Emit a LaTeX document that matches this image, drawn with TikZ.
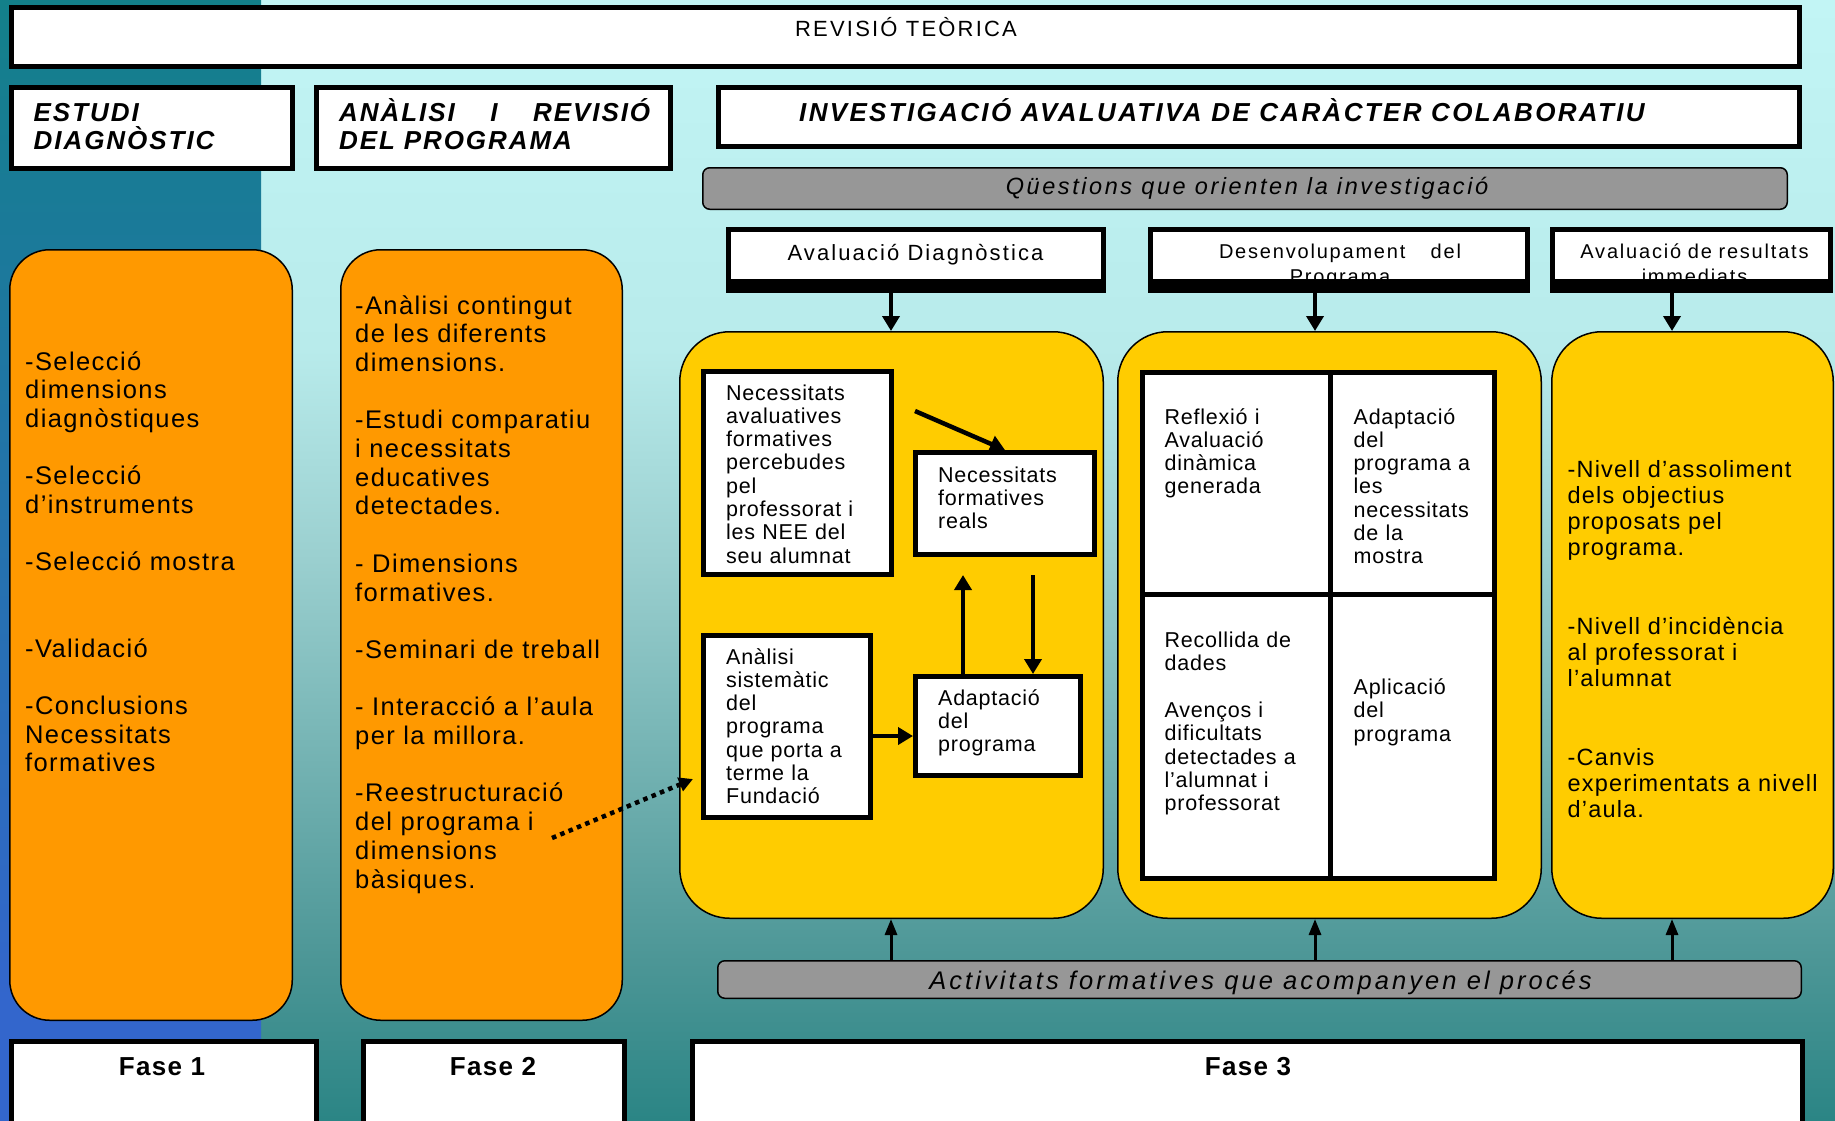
\documentclass[tikz,border=0pt]{standalone}
\usepackage{fontspec}
\setmainfont{Liberation Sans}
\usetikzlibrary{arrows.meta}

\definecolor{bgTop}{HTML}{C2F5F5}
\definecolor{bgMa}{HTML}{B8EBEB}
\definecolor{bgMb}{HTML}{9ACFCF}
\definecolor{bgMc}{HTML}{6CADAD}
\definecolor{bgMd}{HTML}{4C9696}
\definecolor{bgBot}{HTML}{2B8585}
\definecolor{stripTop}{HTML}{13808A}
\definecolor{stripBot}{HTML}{3366CC}
\definecolor{orangeC}{HTML}{FF9900}
\definecolor{yellowC}{HTML}{FFCC00}
\definecolor{grayC}{HTML}{979797}

\pgfdeclareverticalshading{rightbg}{100bp}{color(0bp)=(bgBot); color(25bp)=(bgBot);
  color(32.1bp)=(bgMd); color(39.3bp)=(bgMc); color(50bp)=(bgMb); color(59.4bp)=(bgMa);
  color(75bp)=(bgTop); color(100bp)=(bgTop)}
\pgfdeclareverticalshading{stripbg}{100bp}{color(0bp)=(stripBot); color(25bp)=(stripBot);
  color(30.4bp)=(stripBot); color(75bp)=(stripTop); color(100bp)=(stripTop)}

\newcommand\orangefont{\fontsize{25.5}{28.7}\selectfont\addfontfeatures{LetterSpace=5.5}}
\newcommand\yelfont{\fontsize{21.5}{23.3}\selectfont\addfontfeatures{LetterSpace=3.5}}
\newcommand\resfont{\fontsize{23.5}{26.2}\selectfont\addfontfeatures{LetterSpace=5}}
\newcommand\hdrfont{\fontsize{22}{27}\selectfont\addfontfeatures{LetterSpace=9.5}}
\newcommand\hdrsmall{\fontsize{20}{25}\selectfont\addfontfeatures{LetterSpace=9}}
\newcommand\headfont{\fontsize{26}{28}\selectfont\bfseries\itshape\addfontfeatures{LetterSpace=7.5}}
\newcommand\titlefont{\fontsize{22}{24}\selectfont\addfontfeatures{LetterSpace=10}}
\newcommand\bandfont{\fontsize{23.5}{27}\selectfont\itshape\addfontfeatures{LetterSpace=11}}
\newcommand\actfont{\fontsize{25.5}{29}\selectfont\itshape\addfontfeatures{LetterSpace=12}}
\newcommand\fasefont{\fontsize{26}{30}\selectfont\bfseries\addfontfeatures{LetterSpace=5}}

\begin{document}
\begin{tikzpicture}[x=1pt,y=-1pt,
  wbox/.style={draw=black,line width=5pt,fill=white},
  obox/.style={draw=black,line width=1.5pt,fill=orangeC,rounded corners=40pt},
  ybox/.style={draw=black,line width=1.5pt,fill=yellowC,rounded corners=50pt},
  gbox/.style={draw=black,line width=1.5pt,fill=grayC,rounded corners=7pt},
  lefttxt/.style={anchor=base west,align=left,text width=#1},
  ctrtxt/.style={anchor=base,align=center,text width=#1},
  arr/.style={line width=4.5pt,-{Triangle[length=15pt,width=17pt]}},
  uparr/.style={line width=3pt,-{Triangle[length=16pt,width=12pt]}},
  dotarr/.style={line width=4.5pt,dash pattern=on 4.5pt off 4.5pt,-{Triangle[length=14pt,width=14pt]}}]
\tikzstyle{every node}+=[inner sep=0pt]

\useasboundingbox (0,0) rectangle (1835,1120);
\clip (0,0) rectangle (1835,1120);

% background
\shade[shading=rightbg] (0,0) rectangle (1835,1120);
\shade[shading=stripbg] (0,0) rectangle (261,1120);

% top row
\node[wbox,minimum width=1788pt,minimum height=59pt] (revisio) at (905.5,37) {};
\node[wbox,minimum width=281pt,minimum height=81pt] (estudi) at (152,128) {};
\node[wbox,minimum width=354pt,minimum height=81pt] (analisi) at (493.5,128) {};
\node[wbox,minimum width=1081pt,minimum height=59pt] (invest) at (1259,117) {};
\node[gbox,minimum width=1084.5pt,minimum height=41.5pt] (quest) at (1245,188.5) {};

\node[wbox,minimum width=375pt,minimum height=61pt] (hdrA) at (916,260) {};
\node[wbox,minimum width=377pt,minimum height=61pt] (hdrB) at (1339,260) {};
\node[wbox,minimum width=278pt,minimum height=61pt] (hdrC) at (1691.5,260) {};

% columns
\node[obox,minimum width=282.5pt,minimum height=770.5pt] (or1) at (151,635) {};
\node[obox,minimum width=281.5pt,minimum height=770.5pt] (or2) at (481.5,635) {};
\node[ybox,minimum width=423.5pt,minimum height=586.5pt] (ye1) at (891.5,625) {};
\node[ybox,minimum width=423.5pt,minimum height=586.5pt] (ye2) at (1329.5,625) {};
\node[ybox,minimum width=281.5pt,minimum height=586.5pt] (ye3) at (1692.5,625) {};

% avaluacio diagnostica
\node[wbox,minimum width=188pt,minimum height=203pt] (necAval) at (797.5,473) {};
\node[wbox,minimum width=179pt,minimum height=102pt] (necReal) at (1005,503.5) {};
\node[wbox,minimum width=167pt,minimum height=182pt] (anaSist) at (787,726.5) {};
\node[wbox,minimum width=165pt,minimum height=99pt] (adapt) at (998,726) {};

% desenvolupament
\node[wbox,minimum width=187.5pt,minimum height=221.5pt] (gTL) at (1236.25,483.25) {};
\node[wbox,minimum width=164.5pt,minimum height=221.5pt] (gTR) at (1412.25,483.25) {};
\node[wbox,minimum width=187.5pt,minimum height=284.5pt] (gBL) at (1236.25,736.25) {};
\node[wbox,minimum width=164.5pt,minimum height=284.5pt] (gBR) at (1412.25,736.25) {};

\node[gbox,minimum width=1083.5pt,minimum height=37.5pt] (activ) at (1259.5,979.5) {};

% fases
\node[wbox,minimum width=305pt,minimum height=96pt] (fase1) at (164,1089.5) {};
\node[wbox,minimum width=261pt,minimum height=96pt] (fase2) at (494,1089.5) {};
\node[wbox,minimum width=1110pt,minimum height=96pt] (fase3) at (1247.5,1089.5) {};

% arrows
\coordinate (colA) at (891,0);
\coordinate (colB) at (1315,0);
\coordinate (colC) at (1672,0);
\draw[arr] (hdrA.south -| colA) -- (ye1.north -| colA);
\draw[arr] (hdrB.south -| colB) -- (ye2.north -| colB);
\draw[arr] (hdrC.south -| colC) -- (ye3.north -| colC);
\draw[uparr] (activ.north -| colA) -- (ye1.south -| colA);
\draw[uparr] (activ.north -| colB) -- (ye2.south -| colB);
\draw[uparr] (activ.north -| colC) -- (ye3.south -| colC);

\coordinate (dStart) at (915,411);
\coordinate (upEnd) at (963,575);
\coordinate (downStart) at (1033,575);
\coordinate (rowR) at (0,736);
\draw[arr] (dStart) -- (necReal.north);
\draw[arr] (adapt.north -| upEnd) -- (upEnd);
\draw[arr] (downStart) -- (adapt.north -| downStart);
\draw[arr] (anaSist.east |- rowR) -- (adapt.west |- rowR);

\coordinate (dotStart) at (552,838);
\coordinate (dotEnd) at (693,779);
\draw[dotarr] (dotStart) -- (dotEnd);

% texts
\node[anchor=base,font=\titlefont] (tRev) at (906,36) {REVISIÓ TEÒRICA};
\node[lefttxt=270pt,font=\headfont] (tEst) at (33.5,121) {ESTUDI\\DIAGNÒSTIC};
\node[lefttxt=330pt,font=\headfont] (tAna) at (339,121)
  {\makebox[311pt][s]{ANÀLISI\hfill I\hfill REVISIÓ}\\DEL PROGRAMA};
\node[anchor=base west,font=\headfont\addfontfeatures{LetterSpace=9}] (tInv) at (799,121)
  {INVESTIGACIÓ AVALUATIVA DE CARÀCTER COLABORATIU};
\node[anchor=base,font=\bandfont] (tQue) at (1247,194) {Qüestions que orienten la investigació};

\node[anchor=base,font=\hdrfont] (tHA) at (915.5,260) {Avaluació Diagnòstica};
\begin{scope}
\clip (hdrB.north west) rectangle (hdrB.south east);
\node[ctrtxt=300pt,font=\hdrsmall] (tHB) at (1340,258)
  {\makebox[242pt][s]{Desenvolupament\hfill del}\\Programa};
\end{scope}
\begin{scope}
\clip (hdrC.north west) rectangle (hdrC.south east);
\node[ctrtxt=270pt,font=\hdrsmall] (tHC) at (1694.5,258) {Avaluació de resultats\\immediats};
\end{scope}
% thick lower edges of the header boxes
\fill (hdrA.south west) rectangle ([yshift=14pt]hdrA.south east);
\fill (hdrB.south west) rectangle ([yshift=14pt]hdrB.south east);
\fill (hdrC.south west) rectangle ([yshift=14pt]hdrC.south east);

\node[lefttxt=265pt,font=\orangefont] (tOr1) at (25,370)
  {-Selecció\\dimensions\\diagnòstiques\\~\\-Selecció\\d’instruments\\~\\-Selecció mostra\\~\\~\\-Validació\\~\\-Conclusions\\Necessitats\\formatives};
\node[lefttxt=265pt,font=\orangefont] (tOr2) at (355,314)
  {-Anàlisi contingut\\de les diferents\\dimensions.\\~\\-Estudi comparatiu\\i necessitats\\educatives\\detectades.\\~\\- Dimensions\\formatives.\\~\\-Seminari de treball\\~\\- Interacció a l’aula\\per la millora.\\~\\-Reestructuració\\del programa i\\dimensions\\bàsiques.};

\node[lefttxt=165pt,font=\yelfont] (tNecAval) at (726,400)
  {Necessitats\\avaluatives\\formatives\\percebudes\\pel\\professorat i\\les NEE del\\seu alumnat};
\node[lefttxt=155pt,font=\yelfont] (tNecReal) at (938,482) {Necessitats\\formatives\\reals};
\node[lefttxt=145pt,font=\yelfont] (tAnaSist) at (726,664)
  {Anàlisi\\sistemàtic\\del\\programa\\que porta a\\terme la\\Fundació};
\node[lefttxt=140pt,font=\yelfont] (tAdapt) at (938,705) {Adaptació\\del\\programa};

\node[lefttxt=160pt,font=\yelfont] (tRefl) at (1164.5,424) {Reflexió i\\Avaluació\\dinàmica\\generada};
\node[lefttxt=140pt,font=\yelfont] (tAdProg) at (1353.5,424)
  {Adaptació\\del\\programa a\\les\\necessitats\\de la\\mostra};
\node[lefttxt=160pt,font=\yelfont] (tRecol) at (1164.5,647.5)
  {Recollida de\\dades\\~\\Avenços i\\dificultats\\detectades a\\l’alumnat i\\professorat};
\node[lefttxt=140pt,font=\yelfont] (tAplic) at (1353.5,694.5) {Aplicació\\del\\programa};

\node[lefttxt=262pt,font=\resfont] (tRes) at (1567.5,477)
  {-Nivell d’assoliment\\dels objectius\\proposats pel\\programa.\\~\\~\\-Nivell d’incidència\\al professorat i\\l’alumnat\\~\\~\\-Canvis\\experimentats a nivell\\d’aula.};

\node[anchor=base,font=\actfont] (tAct) at (1260.5,989) {Activitats formatives que acompanyen el procés};

\node[anchor=base,font=\fasefont] (tF1) at (162,1075) {Fase 1};
\node[anchor=base,font=\fasefont] (tF2) at (493,1075) {Fase 2};
\node[anchor=base,font=\fasefont] (tF3) at (1248,1075) {Fase 3};
\end{tikzpicture}
\end{document}
